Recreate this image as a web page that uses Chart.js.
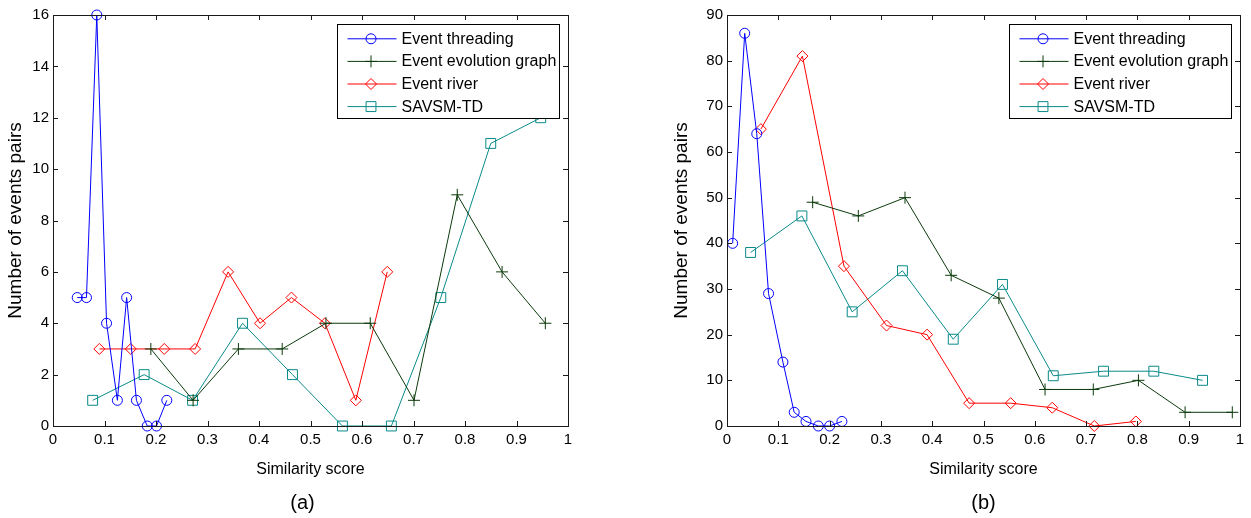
<!DOCTYPE html>
<html><head><meta charset="utf-8">
<script src="https://cdn.jsdelivr.net/npm/chart.js@4/dist/chart.umd.min.js"></script>
<style>
html,body{margin:0;padding:0;background:#fff;}
#wrap{position:relative;width:1251px;height:518px;background:#fff;}
.c{position:absolute;top:0;height:518px;}
#ca{left:0;width:625px;}
#cb{left:625px;width:626px;}
</style></head><body>
<div id="wrap"><div class="c" id="ca"><canvas id="a"></canvas></div><div class="c" id="cb"><canvas id="b"></canvas></div></div>
<script>
// ---- data ----
const seriesNames = ['Event threading', 'Event evolution graph', 'Event river', 'SAVSM-TD'];
const xTickLabels = ['0','0.1','0.2','0.3','0.4','0.5','0.6','0.7','0.8','0.9','1'];
const yTickLabelsA = ['0','2','4','6','8','10','12','14','16'];
const yTickLabelsB = ['0','10','20','30','40','50','60','70','80','90'];
const xTitle = 'Similarity score';
const yTitle = 'Number of events pairs';
const panelTitles = ['(a)', '(b)'];

// panel (a)
const threadAx = [0.047,0.065,0.085,0.104,0.125,0.143,0.162,0.183,0.201,0.221];
const threadAy = [5,5,16,4,1,5,1,0,0,1];
const evolAx   = [0.190,0.272,0.360,0.445,0.530,0.616,0.701,0.785,0.872,0.956];
const evolAy   = [3,1,3,3,4,4,1,9,6,4];
const riverAx  = [0.090,0.151,0.216,0.276,0.340,0.402,0.463,0.528,0.588,0.649];
const riverAy  = [3,3,3,3,6,4,5,4,1,6];
const savsmAx  = [0.077,0.177,0.271,0.368,0.465,0.562,0.657,0.753,0.850,0.947];
const savsmAy  = [1,2,1,4,2,0,0,5,11,12];

// panel (b)
const threadBx = [0.011,0.0345,0.058,0.081,0.109,0.131,0.154,0.178,0.200,0.224];
const threadBy = [40,86,64,29,14,3,1,0,0,1];
const evolBx   = [0.167,0.256,0.347,0.437,0.530,0.620,0.714,0.802,0.893,0.985];
const evolBy   = [49,46,50,33,28,8,8,10,3,3];
const riverBx  = [0.066,0.147,0.228,0.311,0.390,0.472,0.553,0.634,0.716,0.797];
const riverBy  = [65,81,35,22,20,5,5,4,0,1];
const savsmBx  = [0.046,0.146,0.244,0.342,0.441,0.537,0.636,0.734,0.832,0.927];
const savsmBy  = [38,46,25,34,19,31,11,12,12,10];

// ---- styles ----
const styles = [
  {color:'#0000ff', point:'circle',  radius:5},
  {color:'#0b3a0b', point:'cross',   radius:6},
  {color:'#ff0000', point:'rectRot', radius:5.5},
  {color:'#0a8a8a', point:'rect',    radius:7}
];
const FONT = '"Liberation Sans", Arial, Helvetica, sans-serif';
Chart.defaults.font.family = FONT;
Chart.defaults.color = '#000';

function pts(xs, ys){ return xs.map((x,i)=>({x:x, y:ys[i]})); }
function mkDs(i, xs, ys){
  const s = styles[i];
  return {
    label: seriesNames[i], data: pts(xs, ys),
    borderColor: s.color, borderWidth: 1, tension: 0, fill: false, clip: false,
    pointStyle: s.point, pointRadius: s.radius, pointHoverRadius: s.radius,
    pointBorderColor: s.color, pointBackgroundColor: 'rgba(0,0,0,0)', pointBorderWidth: 1
  };
}

function drawMarker(ctx, style, x, y, r){
  ctx.beginPath();
  if (style === 'circle') { ctx.arc(x, y, r, 0, Math.PI*2); }
  else if (style === 'cross') { ctx.moveTo(x-r, y); ctx.lineTo(x+r, y); ctx.moveTo(x, y-r); ctx.lineTo(x, y+r); }
  else if (style === 'rectRot') { ctx.moveTo(x-r, y); ctx.lineTo(x, y-r); ctx.lineTo(x+r, y); ctx.lineTo(x, y+r); ctx.closePath(); }
  else if (style === 'rect') { const h = Math.SQRT1_2*r; ctx.rect(x-h, y-h, 2*h, 2*h); }
  ctx.stroke();
}

// frame with inward ticks on all four sides, MATLAB-style legend, panel caption
const matlabAxes = {
  id: 'matlabAxes',
  afterDatasetsDraw(chart){
    const ctx = chart.ctx, a = chart.chartArea;
    const xs = chart.scales.x, ys = chart.scales.y;
    const L = 5;
    ctx.save();
    ctx.strokeStyle = '#1a1a1a'; ctx.lineWidth = 1;
    ctx.beginPath();
    xs.ticks.forEach(t => {
      const p = Math.round(xs.getPixelForValue(t.value)) + 0.5;
      ctx.moveTo(p, a.bottom); ctx.lineTo(p, a.bottom - L);
      ctx.moveTo(p, a.top); ctx.lineTo(p, a.top + L);
    });
    ys.ticks.forEach(t => {
      const p = Math.round(ys.getPixelForValue(t.value)) + 0.5;
      ctx.moveTo(a.left, p); ctx.lineTo(a.left + L, p);
      ctx.moveTo(a.right, p); ctx.lineTo(a.right - L, p);
    });
    ctx.stroke();
    ctx.strokeRect(Math.round(a.left)+0.5, Math.round(a.top)+0.5, Math.round(a.right-a.left), Math.round(a.bottom-a.top));
    ctx.restore();
  },
  afterDraw(chart, args, opts){
    const ctx = chart.ctx, a = chart.chartArea;
    const w = 222, h = 94;
    const bx = Math.round(a.right - 9 - w) + 0.5, by = Math.round(a.top + 9) + 0.5;
    ctx.save();
    ctx.fillStyle = '#fff'; ctx.fillRect(bx, by, w, h);
    ctx.strokeStyle = '#000'; ctx.lineWidth = 1; ctx.strokeRect(bx, by, w, h);
    ctx.font = '16px ' + FONT; ctx.textBaseline = 'middle'; ctx.textAlign = 'left';
    chart.data.datasets.forEach((ds, i) => {
      const y = by + 14.3 + i * 22.6;
      ctx.strokeStyle = ds.borderColor; ctx.lineWidth = 1;
      ctx.beginPath(); ctx.moveTo(bx + 10, y); ctx.lineTo(bx + 59, y); ctx.stroke();
      drawMarker(ctx, ds.pointStyle, bx + 33.5, y, ds.pointRadius);
      ctx.fillStyle = '#000';
      ctx.fillText(ds.label, bx + 64, y + 0.5);
    });
    // panel caption
    ctx.font = '20px ' + FONT; ctx.textAlign = 'center'; ctx.fillStyle = '#000';
    ctx.fillText(opts.caption, (a.left + a.right) / 2 + opts.dx, 503);
    ctx.restore();
  }
};

function makeChart(id, datasets, yMax, yStep, yLabels, yAxisWidth, padRight, yTitlePad, caption, capDx){
  return new Chart(document.getElementById(id), {
    type: 'line',
    data: { datasets: datasets },
    options: {
      responsive: true, maintainAspectRatio: false, animation: false,
      layout: { padding: { top: 15, right: padRight, left: 0, bottom: 27 } },
      plugins: {
        legend: { display: false },
        tooltip: { enabled: false },
        matlabAxes: { caption: caption, dx: capDx }
      },
      scales: {
        x: {
          type: 'linear', min: 0, max: 1,
          grid: { display: false, drawTicks: false }, border: { display: false },
          ticks: { stepSize: 0.1, padding: 5, font: { size: 15 }, color: '#000',
                   maxRotation: 0, autoSkip: false,
                   callback: (v, i) => xTickLabels[i] },
          title: { display: true, text: xTitle, font: { size: 16 }, color: '#000',
                   padding: { top: 0, bottom: 11.4 } },
          afterFit: s => { s.height = 65; }
        },
        y: {
          type: 'linear', min: 0, max: yMax,
          grid: { display: false, drawTicks: false }, border: { display: false },
          ticks: { stepSize: yStep, padding: 4, font: { size: 15 }, color: '#000',
                   autoSkip: false, callback: (v, i) => yLabels[i] },
          title: { display: true, text: yTitle, font: { size: 19 }, color: '#000',
                   padding: { top: yTitlePad, bottom: 0 } },
          afterFit: s => { s.width = yAxisWidth; }
        }
      }
    },
    plugins: [matlabAxes]
  });
}

makeChart('a', [
  mkDs(0, threadAx, threadAy), mkDs(1, evolAx, evolAy),
  mkDs(2, riverAx, riverAy), mkDs(3, savsmAx, savsmAy)
], 16, 2, yTickLabelsA, 53, 57, 4.6, panelTitles[0], -8);

makeChart('b', [
  mkDs(0, threadBx, threadBy), mkDs(1, evolBx, evolBy),
  mkDs(2, riverBx, riverBy), mkDs(3, savsmBx, savsmBy)
], 90, 10, yTickLabelsB, 102, 11, 45.6, panelTitles[1], 0);
</script>
</body></html>
